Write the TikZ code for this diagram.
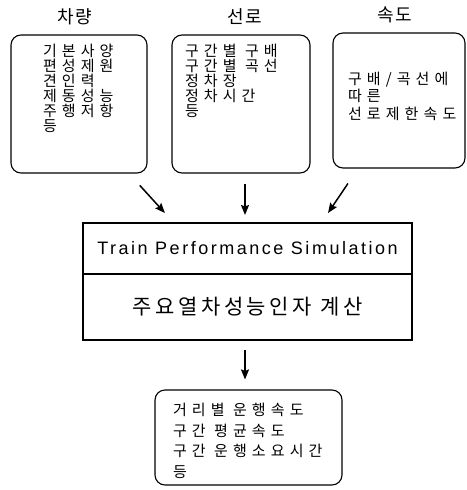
\documentclass[tikz,border=0pt]{standalone}
\usepackage{fontspec}
\setmainfont{Liberation Sans}
\newfontfamily\krfont[LetterSpace=34]{Noto Sans CJK KR}
\newfontfamily\krwide[LetterSpace=5]{Noto Sans CJK KR}
\newfontfamily\krcalc[LetterSpace=17]{Noto Sans CJK KR}
\newfontfamily\trfont[LetterSpace=14]{Liberation Sans}
\usetikzlibrary{positioning,arrows.meta}

\begin{document}
\begin{tikzpicture}[x=1pt, y=-1pt, line width=1.1pt,
  rbox/.style={draw, rounded corners=10pt, inner sep=0pt},
  pbox/.style={draw, inner sep=0pt, outer sep=0pt, minimum width=329pt},
  ttl/.style={font=\krwide\fontsize{18}{18}\selectfont},
  lst/.style={align=left, inner sep=0pt, anchor=north west},
  arr/.style={-{Stealth[length=10pt, width=8pt, inset=1.5pt]}, line width=1.5pt}]
\useasboundingbox (0,0) rectangle (466,490);
% input boxes
\node[rbox, minimum width=136pt, minimum height=138pt] (veh) at (79,104) {};
\node[rbox, minimum width=138pt, minimum height=138pt] (lin) at (241,104) {};
\node[rbox, minimum width=132pt, minimum height=135pt] (spd) at (399,100.5) {};
\node[ttl] (tveh) at (75,17) {차량};
\node[ttl] (tlin) at (245,17) {선로};
\node[ttl] (tspd) at (395,15) {속도};
\node[lst, font=\krfont\fontsize{15}{15}\selectfont] (vehtxt)
  at ([xshift=32pt, yshift=-9pt]veh.north west)
  {기본사양\\편성제원\\견인력\\제동성능\\주행저항\\등};
\node[lst, font=\krfont\fontsize{15}{15}\selectfont] (lintxt)
  at ([xshift=13pt, yshift=-9pt]lin.north west)
  {구간별 구배\\구간별 곡선\\정차장\\정차시간\\등};
\node[lst, font=\krfont\fontsize{15}{17.5}\selectfont] (spdtxt)
  at ([xshift=15pt, yshift=-39pt]spd.north west)
  {구배/곡선에\\따른\\선로제한속도};
% simulation block
\node[pbox, minimum height=51pt, font=\trfont\fontsize{18}{18}\selectfont] (tps)
  at (247.5,248.5) {Train Performance Simulation};
\node[pbox, minimum height=66pt, below=0pt of tps, font=\krcalc\fontsize{21}{21}\selectfont] (calc)
  {주요열차성능인자 계산};
% output box
\node[rbox, minimum width=187pt, minimum height=95pt] (out) at (248.5,437.5) {};
\node[lst, font=\krfont\fontsize{15}{20.7}\selectfont] (outtxt)
  at ([xshift=18pt, yshift=-13pt]out.north west)
  {거리별 운행속도\\구간 평균속도\\구간 운행소요시간\\등};
\draw[arr, shorten <=16pt, shorten >=13.5pt] ([xshift=50pt]veh.south) -- ([xshift=-73.5pt]tps.north);
\draw[arr, shorten <=10pt, shorten >=8pt] ([xshift=4pt]lin.south) -- ([xshift=-2.5pt]tps.north);
\draw[arr, shorten <=18pt, shorten >=12pt] ([xshift=-41pt]spd.south) -- ([xshift=73.8pt]tps.north);
\draw[arr, shorten <=10pt, shorten >=10pt] ([xshift=-2.5pt]calc.south) -- ([xshift=-3.5pt]out.north);
\end{tikzpicture}
\end{document}
